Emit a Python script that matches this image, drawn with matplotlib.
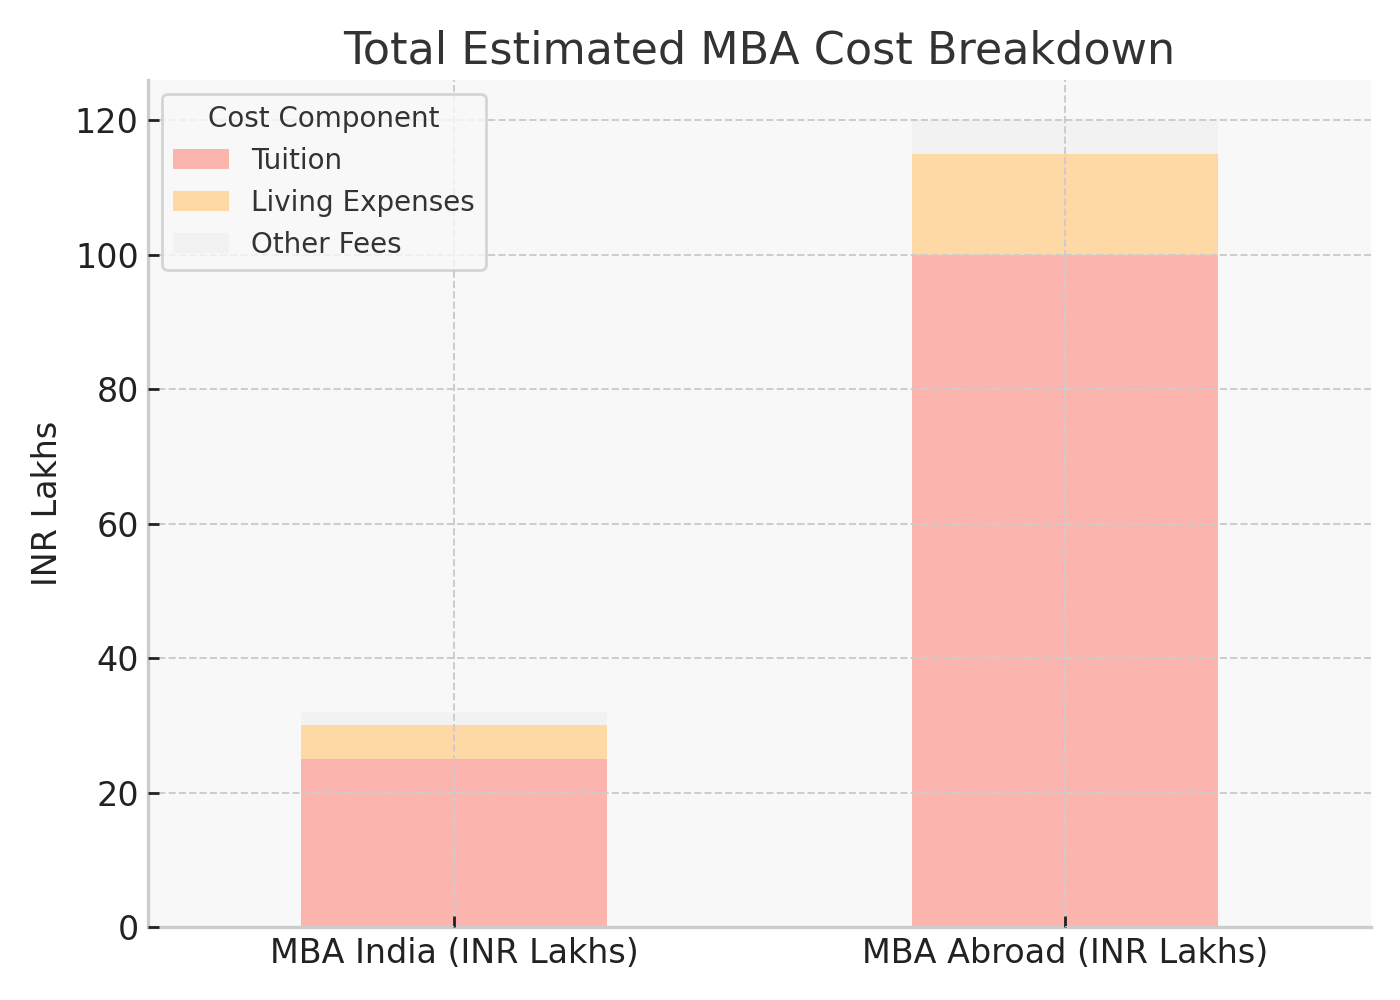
import matplotlib
matplotlib.use("Agg")
import matplotlib.pyplot as plt
import numpy as np

categories = ["MBA India (INR Lakhs)", "MBA Abroad (INR Lakhs)"]
components = ["Tuition", "Living Expenses", "Other Fees"]
tuition = [25, 100]
living = [5, 15]
other = [2, 5]
colors = ["#fbb4ae", "#fed9a6", "#f2f2f2"]

fig, ax = plt.subplots(figsize=(7, 5), dpi=200)
fig.patch.set_facecolor("white")
ax.set_facecolor("#f8f8f8")

x = np.arange(len(categories))
bottom = np.zeros(len(categories))
for name, vals, c in zip(components, [tuition, living, other], colors):
    ax.bar(x, vals, width=0.5, bottom=bottom, color=c, label=name, zorder=1)
    bottom += np.array(vals)

ax.set_xlim(-0.5, 1.5)
ax.set_ylim(0, bottom.max() * 1.05)
ax.set_xticks(x)
ax.set_xticklabels(categories, fontsize=12, color="#222222")
ax.tick_params(axis="y", labelsize=12, labelcolor="#222222")
ax.tick_params(axis="both", direction="in", length=4, width=1, color="#222222")
ax.set_axisbelow(False)
ax.grid(True, linestyle="--", color="#cccccc", linewidth=0.7, zorder=2)

for s in ["top", "right"]:
    ax.spines[s].set_visible(False)
for s in ["left", "bottom"]:
    ax.spines[s].set_color("#cccccc")
    ax.spines[s].set_linewidth(1.2)

ax.set_title("Total Estimated MBA Cost Breakdown", fontsize=16, color="#333333")
ax.set_ylabel("INR Lakhs", fontsize=12, color="#222222")

leg = ax.legend(title="Cost Component", loc="upper left", fontsize=10,
                title_fontsize=10, frameon=True, facecolor="#f8f8f8",
                edgecolor="#cccccc")
for t in leg.get_texts():
    t.set_color("#333333")
leg.get_title().set_color("#333333")

fig.subplots_adjust(left=0.106, right=0.979, top=0.92, bottom=0.073)
fig.savefig("out.png", dpi=200)
